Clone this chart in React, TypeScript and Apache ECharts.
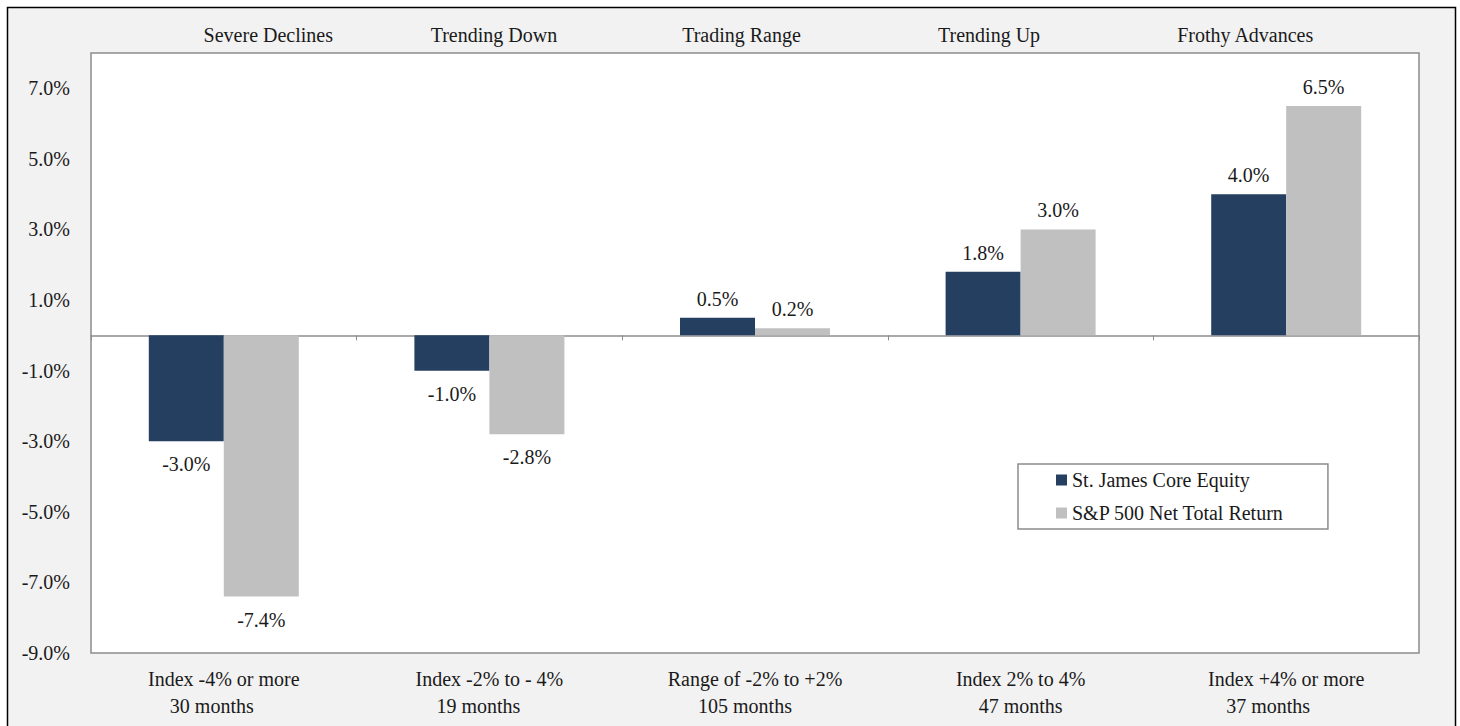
import React, { useEffect, useRef } from "react";
import * as echarts from "echarts";

const categoriesTop = ["Severe Declines", "Trending Down", "Trading Range", "Trending Up", "Frothy Advances"];
const rangeLabels = ["Index -4% or more", "Index -2% to - 4%", "Range of -2% to +2%", "Index 2% to 4%", "Index +4% or more"];
const monthLabels = ["30 months", "19 months", "105 months", "47 months", "37 months"];
const stJames = [-3.0, -1.0, 0.5, 1.8, 4.0];
const sp500 = [-7.4, -2.8, 0.2, 3.0, 6.5];
const seriesNames = ["St. James Core Equity", "S&P 500 Net Total Return"];

// horizontal nudges of the header and month texts, as in the source slide
const topPad = [[0, 0, 0, 89], [0, 0, 0, 9], [0, 27, 0, 0], [0, 63, 0, 0], [0, 82, 0, 0]];
const monthPad = [[0, 24, 0, 0], [0, 22, 0, 0], [0, 20, 0, 0], [0, 0, 0, 0], [0, 36, 0, 0]];

const FONT = "Liberation Serif";
const FS = 20;
const TXT = "#1a1a1a";

export default function App() {
  const ref = useRef<HTMLDivElement>(null);
  useEffect(() => {
    if (!ref.current) return;
    const chart = echarts.init(ref.current, undefined, { renderer: "svg" });
    const mkData = (arr: number[]) =>
      arr.map((v) => ({
        value: v,
        label: { position: v >= 0 ? "top" : "bottom", distance: v >= 0 ? 9 : 13 },
      }));
    const labelCfg = {
      show: true,
      fontFamily: FONT,
      fontSize: FS,
      color: TXT,
      formatter: (p: any) => p.value.toFixed(1) + "%",
    };
    const topRich: any = {};
    topPad.forEach((p, i) => {
      topRich["t" + i] = { fontFamily: FONT, fontSize: FS, color: TXT, padding: p };
    });
    const bottomRich: any = {
      a: { fontFamily: FONT, fontSize: FS, color: TXT, lineHeight: 27 },
    };
    monthPad.forEach((p, i) => {
      bottomRich["m" + i] = { fontFamily: FONT, fontSize: FS, color: TXT, lineHeight: 27, padding: p };
    });
    chart.setOption({
      animation: false,
      backgroundColor: "#ffffff",
      textStyle: { fontFamily: FONT },
      graphic: [
        {
          type: "rect",
          z: -10,
          silent: true,
          shape: { x: 7.5, y: 7.5, width: 1448, height: 740 },
          style: { fill: "#f2f2f2", stroke: "#000", lineWidth: 1.5 },
        },
      ],
      grid: {
        show: true,
        left: 91,
        top: 53,
        width: 1328,
        height: 600,
        backgroundColor: "#ffffff",
        borderColor: "#8c8c8c",
        borderWidth: 1.5,
        z: 0,
      },
      legend: {
        orient: "vertical",
        left: 1018,
        top: 464,
        backgroundColor: "#ffffff",
        borderColor: "#8c8c8c",
        borderWidth: 1.5,
        padding: [6, 44, 6, 38],
        itemGap: 13,
        itemWidth: 11,
        itemHeight: 11,
        icon: "rect",
        textStyle: { fontFamily: FONT, fontSize: FS, color: TXT },
        data: seriesNames,
      },
      xAxis: [
        {
          type: "category",
          data: categoriesTop,
          axisLine: { onZero: true, lineStyle: { color: "#8c8c8c", width: 1.5 } },
          axisTick: { show: true, length: 5, lineStyle: { color: "#8c8c8c" } },
          axisLabel: { show: false },
          splitLine: { show: false },
        },
        {
          type: "category",
          data: categoriesTop,
          position: "top",
          axisLine: { show: false },
          axisTick: { show: false },
          axisLabel: {
            margin: 8,
            formatter: (v: string, i: number) => `{t${i}|${v}}`,
            rich: topRich,
          },
        },
        {
          type: "category",
          data: rangeLabels,
          position: "bottom",
          axisLine: { show: false, onZero: false },
          axisTick: { show: false },
          axisLabel: {
            margin: 12,
            formatter: (v: string, i: number) => `{a|${v}}\n{m${i}|${monthLabels[i]}}`,
            rich: bottomRich,
          },
        },
      ],
      yAxis: {
        type: "value",
        min: -9,
        max: 8,
        interval: 2,
        axisLine: { show: false },
        axisTick: { show: false },
        splitLine: { show: false },
        axisLabel: {
          showMaxLabel: false,
          margin: 21,
          fontFamily: FONT,
          fontSize: FS,
          color: TXT,
          formatter: (v: number) => v.toFixed(1) + "%",
        },
      },
      series: [
        {
          name: seriesNames[0],
          type: "bar",
          xAxisIndex: 0,
          data: mkData(stJames),
          barWidth: 75,
          barGap: "0%",
          itemStyle: { color: "#253f60" },
          label: labelCfg,
        },
        {
          name: seriesNames[1],
          type: "bar",
          xAxisIndex: 0,
          data: mkData(sp500),
          barWidth: 75,
          barGap: "0%",
          itemStyle: { color: "#c0c0c0" },
          label: labelCfg,
        },
      ],
    });
    return () => chart.dispose();
  }, []);
  return (
    <div
      ref={ref}
      style={{ position: "fixed", left: 0, top: 0, width: 1460, height: 726 }}
    />
  );
}
